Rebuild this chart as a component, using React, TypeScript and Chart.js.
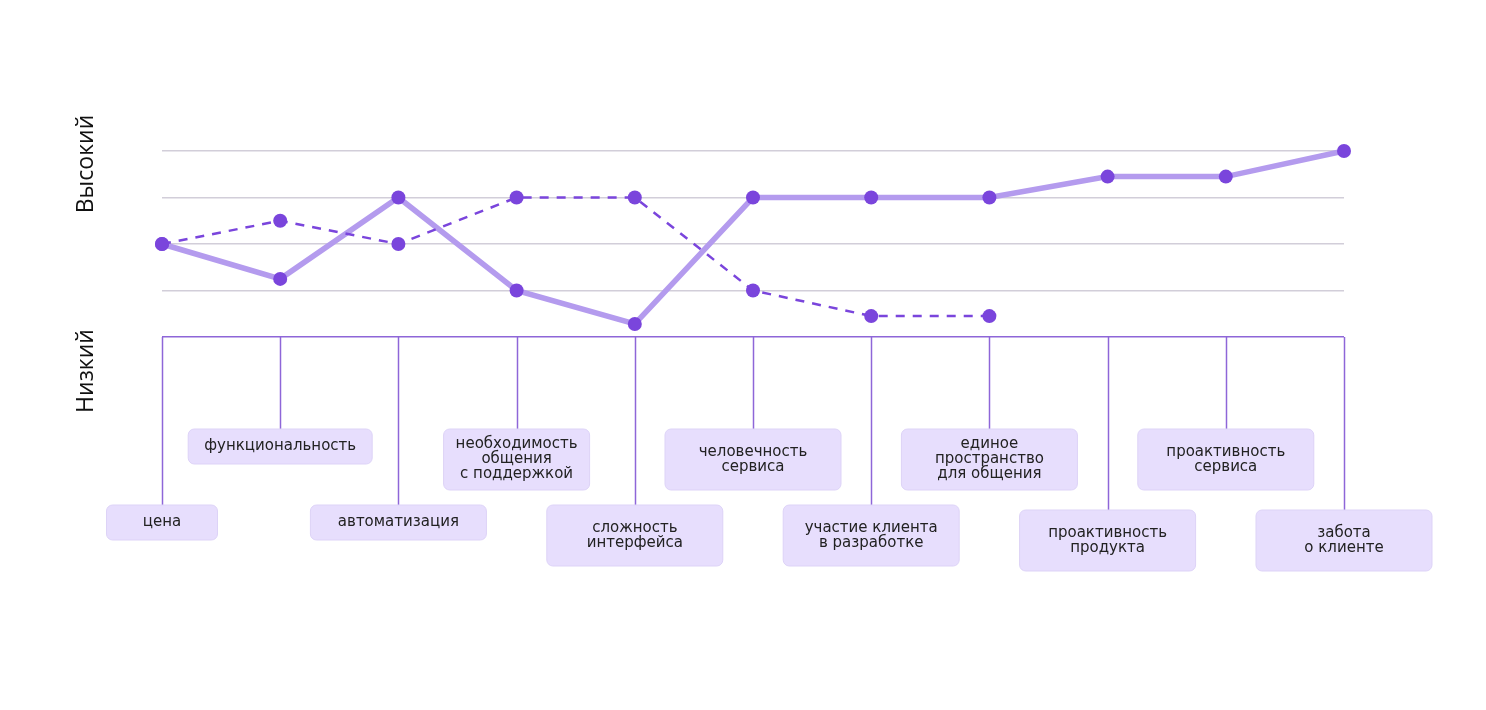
import React, { useEffect, useRef } from "react";
import { Chart, registerables } from "chart.js";

Chart.register(...registerables);

// ---- data ----
const categories: string[][] = [
  ["цена"],
  ["функциональность"],
  ["автоматизация"],
  ["необходимость", "общения", "с поддержкой"],
  ["сложность", "интерфейса"],
  ["человечность", "сервиса"],
  ["участие клиента", "в разработке"],
  ["единое", "пространство", "для общения"],
  ["проактивность", "продукта"],
  ["проактивность", "сервиса"],
  ["забота", "о клиенте"],
];
const solidSeries: (number | null)[] = [2, 1.25, 3, 1, 0.28, 3, 3, 3, 3.45, 3.45, 4];
const dashedSeries: (number | null)[] = [2, 2.5, 2, 3, 3, 1, 0.45, 0.45, null, null, null];
const levelLabels = { low: "Низкий", high: "Высокий" };
const yMin = 0;
const yMax = 4;

// ---- styles ----
const PURPLE_DOT = "#7a45dc";
const PURPLE_LIGHT = "#b49bee";
const PURPLE_AXIS = "#8e66d8";
const GRID = "#d2ced9";
const BOX_FILL = "#e7defd";
const BOX_STROKE = "#ddd3f7";
const BOX_FONT = "'DejaVu Sans', sans-serif";
const AXIS_FONT = "'Open Sans', 'Noto Sans', sans-serif";
const boxWidths = [111, 184, 176, 146, 176, 176, 176, 176, 176, 176, 176];

const labelsPlugin = {
  id: "categoryBoxes",
  afterDraw(chart: any) {
    const ctx = chart.ctx as CanvasRenderingContext2D;
    const xs = chart.scales.x;
    const ys = chart.scales.y;
    const axisY = ys.getPixelForValue(0);
    ctx.save();
    categories.forEach((lines, i) => {
      const cx = xs.getPixelForValue(i);
      const top = i % 2 === 1 ? axisY + 92 : axisY + (i >= 8 ? 173 : 168);
      const h = lines.length === 1 ? 35 : 61;
      const w = boxWidths[i];
      // connector
      ctx.strokeStyle = PURPLE_AXIS;
      ctx.lineWidth = 1.5;
      ctx.beginPath();
      ctx.moveTo(Math.round(cx) + 0.5, axisY);
      ctx.lineTo(Math.round(cx) + 0.5, top);
      ctx.stroke();
      // box
      const bx = cx - w / 2;
      ctx.fillStyle = BOX_FILL;
      ctx.strokeStyle = BOX_STROKE;
      ctx.lineWidth = 1;
      ctx.beginPath();
      (ctx as any).roundRect(bx, top, w, h, 6);
      ctx.fill();
      ctx.stroke();
      // text
      ctx.fillStyle = "#222";
      ctx.font = `15px ${BOX_FONT}`;
      ctx.textAlign = "center";
      ctx.textBaseline = "middle";
      const lh = 15;
      const startY = top + h / 2 - ((lines.length - 1) * lh) / 2;
      lines.forEach((t, k) => ctx.fillText(t, cx, startY + k * lh));
    });
    // level labels
    ctx.fillStyle = "#111";
    ctx.font = `23px ${AXIS_FONT}`;
    ctx.textAlign = "center";
    ctx.textBaseline = "middle";
    const drawRot = (t: string, x: number, y: number) => {
      ctx.save();
      ctx.translate(x, y);
      ctx.rotate(-Math.PI / 2);
      ctx.fillText(t, 0, 0);
      ctx.restore();
    };
    drawRot(levelLabels.high, 86, ys.getPixelForValue(yMax) + 13);
    drawRot(levelLabels.low, 86, axisY + 34);
    ctx.restore();
  },
};

export default function App() {
  const ref = useRef<HTMLCanvasElement>(null);
  useEffect(() => {
    document.body.style.margin = "0";
    const chart = new Chart(ref.current!, {
      type: "line",
      data: {
        labels: categories.map((c) => c.join(" ")),
        datasets: [
          {
            data: dashedSeries,
            borderColor: PURPLE_DOT,
            borderWidth: 2.5,
            borderDash: [9, 8],
            pointBackgroundColor: PURPLE_DOT,
            pointBorderWidth: 0,
            pointRadius: 7,
            spanGaps: false,
            clip: false as any,
          },
          {
            data: solidSeries,
            borderColor: PURPLE_LIGHT,
            borderWidth: 5.5,
            pointBackgroundColor: PURPLE_DOT,
            pointBorderWidth: 0,
            pointRadius: 7,
            clip: false as any,
          },
        ],
      },
      options: {
        animation: false,
        responsive: false,
        layout: { padding: { left: 162, right: 142, top: 151, bottom: 373 } },
        plugins: { legend: { display: false }, tooltip: { enabled: false } },
        scales: {
          x: { display: false, offset: false },
          y: {
            min: yMin,
            max: yMax,
            ticks: { display: false, stepSize: 1 },
            grid: {
              drawTicks: false,
              color: (c: any) => (c.tick && c.tick.value === 0 ? PURPLE_AXIS : GRID),
              lineWidth: 1.5,
            },
            border: { display: false },
          },
        },
      },
      plugins: [labelsPlugin],
    });
    return () => chart.destroy();
  }, []);
  return (
    <div style={{ position: "absolute", left: 0, top: 0 }}>
      <canvas ref={ref} width={1486} height={710} style={{ display: "block" }} />
    </div>
  );
}
